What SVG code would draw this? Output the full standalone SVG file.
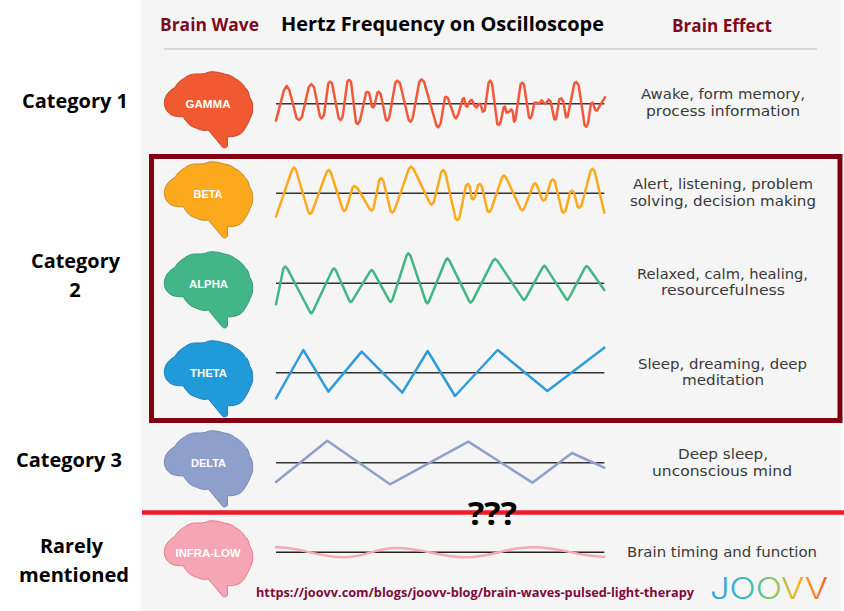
<svg xmlns="http://www.w3.org/2000/svg" width="844" height="611" viewBox="0 0 844 611">
<style>
.h{font-family:"Open Sans","Liberation Sans",sans-serif;font-weight:700;font-size:18px}
.c{font-family:"Open Sans","Liberation Sans",sans-serif;font-weight:700;font-size:20px;fill:#000}
.e{font-family:"DejaVu Sans","Liberation Sans",sans-serif;font-size:13.5px;fill:#3a3a3a}
.n{font-family:"Liberation Sans",Arial,sans-serif;font-weight:700;font-size:10px;fill:#fff}
.w{fill:none;stroke-width:7.5;stroke-linejoin:round;stroke-linecap:round}
.b{stroke:#333;stroke-width:4.5;fill:none}
.br{stroke-width:1}
</style>
<defs>
<path id="brain" d="M164.3 103C164.5 95 170 90 175 87.5C178 82 181 80 184 78.5C188 75 192 74 195 74C199 74 202 74 205 73.5C209 71.5 212 71.5 215 72C218 72 221 73 224 74C229 74.5 232 76 235 78.5C240 81 243 84 245 87.5C248 90 249 93 249.5 97C252 100 253 104 252.7 108.5C253 112 252 115 250 118.5C249 122 247 125 245 128.5C243 132 241 134 238.3 135C235 136.5 231 137 227.3 136.7L227.5 145C227.5 148 223.5 149 222 146.5L208.3 130C204 131 200 130 196.7 128.3C192 127 189 125 186.7 121.7C185 120 184 118 183.3 116.7C179 117 176 116.5 173.3 115.7C168 114 164.5 109 164.3 103Z"/>
<linearGradient id="lg" gradientUnits="userSpaceOnUse" x1="710" y1="0" x2="828" y2="0">
<stop offset="0" stop-color="#2a9fe0"/><stop offset=".3" stop-color="#3cb8c0"/><stop offset=".55" stop-color="#8cc55c"/><stop offset=".75" stop-color="#fbb016"/><stop offset="1" stop-color="#f4592d"/>
</linearGradient>
</defs>
<rect width="844" height="611" fill="#fff"/>
<rect x="141" y="0" width="700" height="611" fill="#f5f5f5"/>
<line x1="164" y1="49" x2="817" y2="49" stroke="#d8d8d8" stroke-width="2"/>
<g id="headers">
<text class="h" x="160" y="31" fill="#7f0a1c" textLength="99" lengthAdjust="spacingAndGlyphs">Brain Wave</text>
<text class="h" x="281" y="31" fill="#000" style="font-size:20px" textLength="323" lengthAdjust="spacingAndGlyphs">Hertz Frequency on Oscilloscope</text>
<text class="h" x="672" y="32" fill="#7f0a1c" textLength="100" lengthAdjust="spacingAndGlyphs">Brain Effect</text>
</g>
<g id="categories">
<text class="c" x="22" y="108" textLength="106" lengthAdjust="spacingAndGlyphs">Category 1</text>
<text class="c" x="31" y="268" textLength="89" lengthAdjust="spacingAndGlyphs">Category</text>
<text class="c" x="75" y="297" text-anchor="middle">2</text>
<text class="c" x="16" y="467" textLength="106" lengthAdjust="spacingAndGlyphs">Category 3</text>
<text class="c" x="40" y="553" textLength="63" lengthAdjust="spacingAndGlyphs">Rarely</text>
<text class="c" x="19" y="582" textLength="110" lengthAdjust="spacingAndGlyphs">mentioned</text>
</g>
<g id="connectors">
<g transform="translate(140,0) scale(.33333)">
<path class="b" d="M408 311H1393"/>
<polyline class="w" stroke="#f2583a" points="408,362 432,270 440,258 448,270 470,355 478,360 486,350 506,262 514,252 522,262 540,350 545,355 552,345 565,250 570,245 576,250 596,355 602,360 608,350 622,245 627,240 633,245 648,368 653,372 660,362 678,278 682,275 688,280 696,320 700,322 704,315 712,278 716,275 722,282 738,360 742,362 748,352 766,248 772,242 780,250 806,360 812,365 818,355 838,245 845,238 852,245 890,378 895,382 902,370 915,292 918,290 924,295 944,352 948,355 954,345 968,297 972,294 978,318 982,320 990,302 996,300 1004,318 1010,322 1016,312 1022,314 1028,335 1034,332 1046,248 1051,242 1056,250 1072,372 1077,375 1082,365 1091,322 1095,320 1100,338 1106,336 1114,328 1118,335 1122,365 1126,360 1142,252 1147,248 1152,254 1167,352 1171,355 1176,345 1183,308 1190,308 1198,311 1205,301 1212,309 1218,310 1226,299 1232,305 1243,358 1248,358 1258,298 1264,295 1270,305 1278,352 1283,350 1303,250 1309,246 1316,256 1334,376 1339,380 1344,370 1353,310 1358,308 1366,330 1371,332 1380,316 1395,292"/>
</g>
<g transform="translate(140,150) scale(.33333)">
<path class="b" d="M408 130H1393"/>
<polyline class="w" stroke="#fca91e" points="408,200 456,60 462,53 468,60 505,186 510,192 516,186 560,66 566,60 572,66 608,178 613,183 619,176 638,112 644,108 652,114 690,178 695,182 700,176 718,90 724,84 730,92 752,184 757,188 763,182 807,56 813,50 820,56 870,160 875,164 881,158 904,66 910,60 916,68 947,206 952,210 958,204 978,106 984,102 990,110 995,146 999,148 1004,142 1014,106 1020,102 1026,110 1042,182 1047,186 1053,180 1086,82 1092,76 1098,82 1142,177 1147,181 1153,175 1180,104 1185,100 1191,106 1206,148 1211,152 1217,146 1233,92 1239,88 1245,96 1266,184 1271,188 1277,182 1291,125 1296,122 1302,128 1313,170 1318,173 1324,168 1352,62 1358,56 1364,64 1393,188"/>
</g>
<g transform="translate(140,150) scale(.33333)">
<path class="b" d="M408 400H1393"/>
<polyline class="w" stroke="#42b688" points="408,463 430,356 436,350 442,356 510,486 514,490 519,484 577,360 582,355 587,360 628,452 632,456 637,452 690,365 695,360 700,365 748,452 752,456 757,450 800,316 805,310 811,316 858,456 862,460 867,454 917,331 922,325 928,331 988,454 992,458 998,452 1059,332 1065,327 1072,332 1148,446 1152,450 1157,445 1208,352 1213,347 1218,352 1278,446 1282,450 1287,444 1335,353 1340,348 1346,353 1393,420"/>
</g>
<g transform="translate(140,290) scale(.33333)">
<path class="b" d="M408 248H1393"/>
<polyline class="w" stroke="#2f9cd9" points="408,325 490,180 565,305 665,185 787,308 863,183 945,318 1073,180 1222,303 1393,173"/>
</g>
<g transform="translate(140,420) scale(.33333)">
<path class="b" d="M408 128H1393"/>
<polyline class="w" stroke="#8f9fcb" points="408,186 562,62 750,193 985,65 1177,188 1296,99 1393,143"/>
<path class="b" style="stroke:#222" d="M408 397H1393"/>
<path class="w" stroke="#f3a9b6" d="M408 382C480 382 540 412 610 412C680 412 700 384 770 384C850 384 900 412 980 412C1060 412 1090 382 1180 382C1270 382 1310 410 1393 410"/>
</g>
</g>
<g id="gamma"><use href="#brain" class="br" fill="#f15a31" stroke="#c4492a"/><text class="n" x="185.5" y="108" textLength="45" lengthAdjust="spacingAndGlyphs">GAMMA</text></g>
<g id="beta" ><use href="#brain" class="br" transform="translate(0,90)" fill="#fca91e" stroke="#c58a2b"/><text class="n" x="193.5" y="197.5" textLength="29" lengthAdjust="spacingAndGlyphs">BETA</text></g>
<g id="alpha"><use href="#brain" class="br" transform="translate(0,180)" fill="#42b688" stroke="#359a72"/><text class="n" x="189" y="287.5" textLength="39" lengthAdjust="spacingAndGlyphs">ALPHA</text></g>
<g id="theta"><use href="#brain" class="br" transform="translate(0,269)" fill="#219ad9" stroke="#1f7fb5"/><text class="n" x="190" y="377" textLength="37" lengthAdjust="spacingAndGlyphs">THETA</text></g>
<g id="delta"><use href="#brain" class="br" transform="translate(0,359)" fill="#8f9fcb" stroke="#7a88b8"/><text class="n" x="191" y="467" textLength="35" lengthAdjust="spacingAndGlyphs">DELTA</text></g>
<g id="infra-low"><use href="#brain" class="br" transform="translate(0,449)" fill="#f5a5b3" stroke="#e9798d"/><text class="n" x="175.5" y="556.5" textLength="65" lengthAdjust="spacingAndGlyphs">INFRA-LOW</text></g>
<g id="effects">
<text class="e" x="641" y="99" textLength="164" lengthAdjust="spacingAndGlyphs">Awake, form memory,</text><text class="e" x="646" y="116" textLength="154" lengthAdjust="spacingAndGlyphs">process information</text>
<text class="e" x="633" y="189" textLength="180" lengthAdjust="spacingAndGlyphs">Alert, listening, problem</text><text class="e" x="630" y="206" textLength="186" lengthAdjust="spacingAndGlyphs">solving, decision making</text>
<text class="e" x="637" y="279" textLength="171" lengthAdjust="spacingAndGlyphs">Relaxed, calm, healing,</text><text class="e" x="661" y="295" textLength="124" lengthAdjust="spacingAndGlyphs">resourcefulness</text>
<text class="e" x="638" y="369" textLength="169" lengthAdjust="spacingAndGlyphs">Sleep, dreaming, deep</text><text class="e" x="682" y="385" textLength="82" lengthAdjust="spacingAndGlyphs">meditation</text>
<text class="e" x="678" y="459" textLength="90" lengthAdjust="spacingAndGlyphs">Deep sleep,</text><text class="e" x="652" y="476" textLength="140" lengthAdjust="spacingAndGlyphs">unconscious mind</text>
<text class="e" x="627" y="557" textLength="190" lengthAdjust="spacingAndGlyphs">Brain timing and function</text>
</g>
<rect id="category-2-box" x="151.5" y="156.5" width="688.5" height="264" fill="none" stroke="#800012" stroke-width="5"/>
<line id="divider" x1="142" y1="512.5" x2="844" y2="512.5" stroke="#ed1c24" stroke-width="4.5"/>
<text x="468" y="525" font-family="'Open Sans','Liberation Sans',sans-serif" font-weight="700" font-size="33" fill="#000" textLength="49" lengthAdjust="spacingAndGlyphs">???</text>
<text x="256" y="597" font-family="'Open Sans','Liberation Sans',sans-serif" font-weight="700" font-size="13" fill="#7f0a3c" textLength="438" lengthAdjust="spacingAndGlyphs">https://joovv.com/blogs/joovv-blog/brain-waves-pulsed-light-therapy</text>
<text id="logo" x="710" y="599" font-family="Inter,'Liberation Sans',sans-serif" font-weight="300" font-size="30" fill="url(#lg)" textLength="118" lengthAdjust="spacingAndGlyphs">JOOVV</text>
</svg>
